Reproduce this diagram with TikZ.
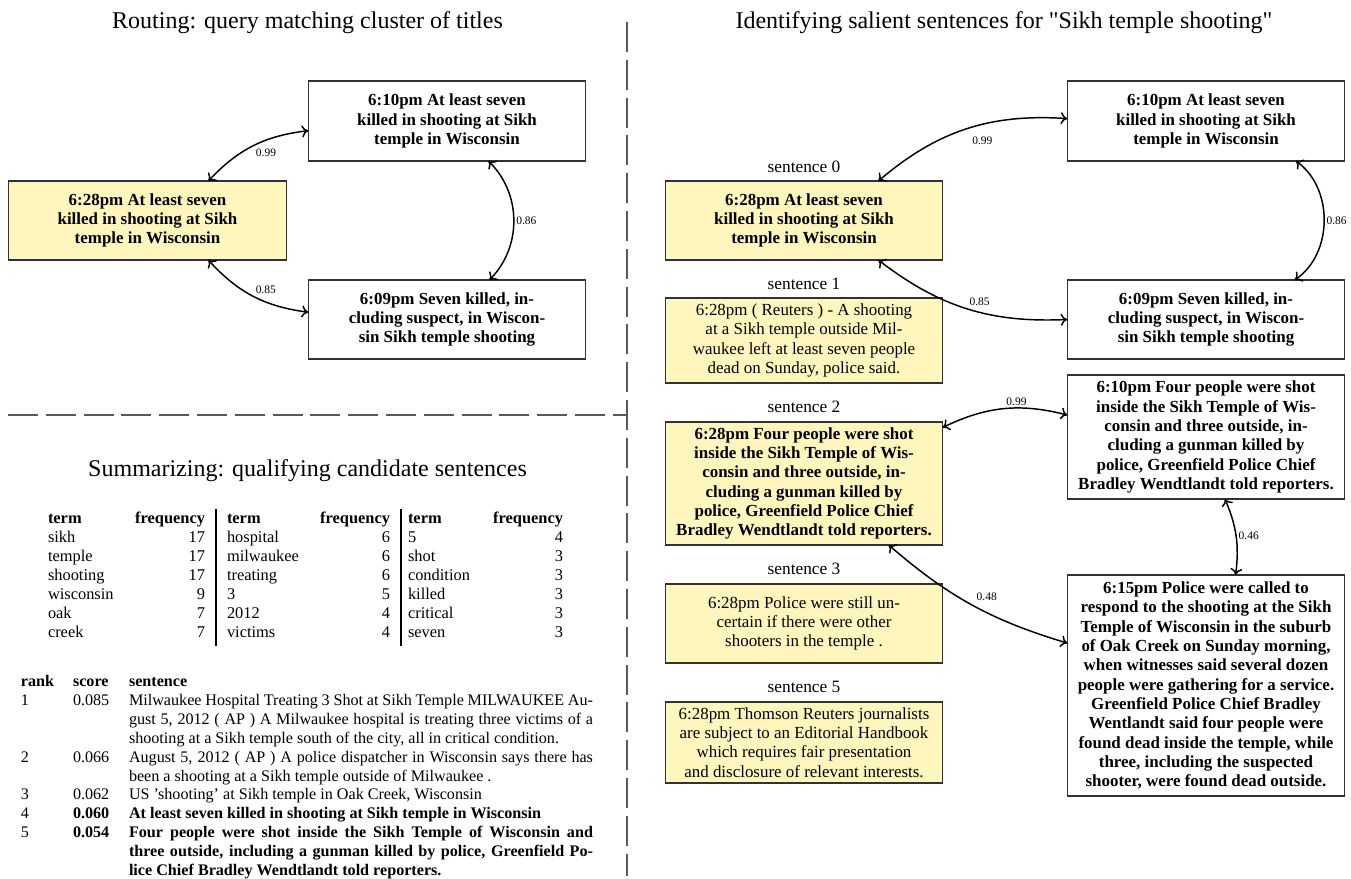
\documentclass[tikz,border=0pt]{standalone}
\usepackage{fontspec}
\setmainfont{Liberation Serif}
\newfontfamily\rawserif{Liberation Serif}[Ligatures=ResetAll]
\usetikzlibrary{arrows.meta}
\definecolor{boxyellow}{RGB}{255,246,190}
\definecolor{edgegray}{RGB}{50,50,50}
\begin{document}
\begin{tikzpicture}[x=0.75pt,y=-0.75pt,
  every node/.style={inner sep=0pt, outer sep=0pt},
  titletext/.style={font=\fontsize{18}{21}\selectfont, anchor=base},
  box/.style={draw=edgegray, line width=0.85pt, align=center, minimum width=208pt, font=\fontsize{12.7}{14.5}\selectfont},
  bbox/.style={box, font=\fontsize{12.7}{14.5}\selectfont\bfseries},
  hl/.style={fill=boxyellow},
  sentlabel/.style={font=\fontsize{13}{15}\selectfont, anchor=base},
  conn/.style={{Computer Modern Rightarrow[length=5pt,width=9pt]}-{Computer Modern Rightarrow[length=5pt,width=9pt]}, line width=1.1pt},
  lbl/.style={font=\fontsize{8.6}{10}\selectfont, inner sep=2pt},
  divider/.style={draw=black!65, line width=0.8pt, dash pattern=on 22.5pt off 5.85pt},
  tcell/.style={font=\fontsize{12.3}{14.5}\selectfont, anchor=base west},
  tnum/.style={font=\fontsize{12.3}{14.5}\selectfont, anchor=base east},
  thead/.style={font=\fontsize{12.3}{14.5}\selectfont\bfseries, anchor=base west},
  fhead/.style={font=\fontsize{12.3}{14.5}\selectfont\bfseries, anchor=base east},
  rcell/.style={font=\fontsize{12.1}{14.2}\selectfont, anchor=base west},
  rhead/.style={font=\fontsize{12.1}{14.2}\selectfont\bfseries, anchor=base west},
  rbold/.style={font=\fontsize{12.1}{14.2}\selectfont\bfseries, anchor=base west},
]
\useasboundingbox (0,0) rectangle (1351,878);

% dividers
\draw[divider] (627,22) -- (627,876);
\draw[divider] (8,415) -- (627,415);

% ---------- left top: routing ----------
\node[titletext] (tl) at (307.5,28.5) {Routing: query matching cluster of titles};
\node[bbox, minimum height=60pt] (A1) at (447,121) {6:10pm At least seven\\killed in shooting at Sikh\\temple in Wisconsin};
\node[bbox, hl, minimum height=59.25pt] (Y1) at (147.5,220.5) {6:28pm At least seven\\killed in shooting at Sikh\\temple in Wisconsin};
\node[bbox, minimum height=59.25pt] (C1) at (447,319.5) {6:09pm Seven killed, in-\\cluding suspect, in Wiscon-\\sin Sikh temple shooting};

\draw[conn] (Y1.33) to[bend left=20] node[lbl, pos=0.5, anchor=north west] (e1) {0.99} (A1.184);
\draw[conn] (A1.-44) to[bend left=45] node[lbl, pos=0.5, anchor=west] (e2) {0.86} (C1.43);
\draw[conn] (Y1.-33) to[bend right=20] node[lbl, pos=0.5, anchor=south west] (e3) {0.85} (C1.177);

% ---------- left bottom: summarizing ----------
\node[titletext] (ts) at (307.5,476) {Summarizing: qualifying candidate sentences};

\node[thead] (h1) at (48,523) {term};
\node[fhead] (g1) at (205,523) {frequency};
\node[thead] (h2) at (227,523) {term};
\node[fhead] (g2) at (390,523) {frequency};
\node[thead] (h3) at (408,523) {term};
\node[fhead] (g3) at (563,523) {frequency};
\foreach \tm/\fq [count=\i] in {sikh/17, temple/17, shooting/17, wisconsin/9, oak/7, creek/7}{
  \node[tcell] (ta\i) at (48,{523+19*\i}) {\tm};
  \node[tnum] (fa\i) at (205,{523+19*\i}) {\fq};
}
\foreach \tm/\fq [count=\i] in {hospital/6, milwaukee/6, treating/6, 3/5, 2012/4, victims/4}{
  \node[tcell] (tb\i) at (227,{523+19*\i}) {\tm};
  \node[tnum] (fb\i) at (390,{523+19*\i}) {\fq};
}
\foreach \tm/\fq [count=\i] in {5/4, shot/3, condition/3, killed/3, critical/3, seven/3}{
  \node[tcell] (tc\i) at (408,{523+19*\i}) {\tm};
  \node[tnum] (fc\i) at (563,{523+19*\i}) {\fq};
}
\draw[line width=0.8pt] (216,509) -- (216,646);
\draw[line width=0.8pt] (401,509) -- (401,646);

% rank table
\node[rhead] (rh1) at (21,686.5) {rank};
\node[rhead] (rh2) at (73,686.5) {score};
\node[rhead] (rh3) at (129,686.5) {sentence};

\node[rcell] (r1) at (21,705.4) {1};
\node[rcell] (s1) at (73,705.4) {0.085};
\node[rcell] (x1a) at (129,705.4) {\makebox[348pt][s]{Milwaukee Hospital Treating 3 Shot at Sikh Temple MILWAUKEE Au-}};
\node[rcell] (x1b) at (129,724.3) {\makebox[348pt][s]{gust 5, 2012 ( AP ) A Milwaukee hospital is treating three victims of a}};
\node[rcell] (x1c) at (129,743.2) {shooting at a Sikh temple south of the city, all in critical condition.};

\node[rcell] (r2) at (21,762.1) {2};
\node[rcell] (s2) at (73,762.1) {0.066};
\node[rcell] (x2a) at (129,762.1) {\makebox[348pt][s]{August 5, 2012 ( AP ) A police dispatcher in Wisconsin says there has}};
\node[rcell] (x2b) at (129,781) {been a shooting at a Sikh temple outside of Milwaukee .};

\node[rcell] (r3) at (21,799.9) {3};
\node[rcell] (s3) at (73,799.9) {0.062};
\node[rcell] (x3a) at (129,799.9) {US ’shooting’ at Sikh temple in Oak Creek, Wisconsin};

\node[rcell] (r4) at (21,818.8) {4};
\node[rbold] (s4) at (73,818.8) {0.060};
\node[rbold] (x4a) at (129,818.8) {At least seven killed in shooting at Sikh temple in Wisconsin};

\node[rcell] (r5) at (21,837.7) {5};
\node[rbold] (s5) at (73,837.7) {0.054};
\node[rbold] (x5a) at (129,837.7) {\makebox[348pt][s]{Four people were shot inside the Sikh Temple of Wisconsin and}};
\node[rbold] (x5b) at (129,856.6) {\makebox[348pt][s]{three outside, including a gunman killed by police, Greenfield Po-}};
\node[rbold] (x5c) at (129,875.5) {lice Chief Bradley Wendtlandt told reporters.};

% ---------- right: salient sentences ----------
\node[titletext, font=\fontsize{18}{21}\rawserif] (tr) at (1004,28.5) {Identifying salient sentences for "Sikh temple shooting"};

\node[bbox, minimum height=60pt] (A2) at (1206,121) {6:10pm At least seven\\killed in shooting at Sikh\\temple in Wisconsin};
\node[bbox, minimum height=59.25pt] (C2) at (1206,319.5) {6:09pm Seven killed, in-\\cluding suspect, in Wiscon-\\sin Sikh temple shooting};
\node[bbox, minimum height=93pt] (D2) at (1206,437) {6:10pm Four people were shot\\inside the Sikh Temple of Wis-\\consin and three outside, in-\\cluding a gunman killed by\\police, Greenfield Police Chief\\Bradley Wendtlandt told reporters.};
\node[bbox, minimum height=165.75pt] (E2) at (1206,685.5) {6:15pm Police were called to\\respond to the shooting at the Sikh\\Temple of Wisconsin in the suburb\\of Oak Creek on Sunday morning,\\when witnesses said several dozen\\people were gathering for a service.\\Greenfield Police Chief Bradley\\Wentlandt said four people were\\found dead inside the temple, while\\three, including the suspected\\shooter, were found dead outside.};

\node[sentlabel] (L0) at (804,172) {sentence 0};
\node[bbox, hl, minimum height=59.25pt] (Y2) at (804,220.5) {6:28pm At least seven\\killed in shooting at Sikh\\temple in Wisconsin};
\node[sentlabel] (L1) at (804,289) {sentence 1};
\node[box, hl, minimum height=63.75pt] (S1) at (804,340.5) {6:28pm ( Reuters ) - A shooting\\at a Sikh temple outside Mil-\\waukee left at least seven people\\dead on Sunday, police said.};
\node[sentlabel] (L2) at (804,412.5) {sentence 2};
\node[bbox, hl, minimum height=92.25pt] (S2) at (804,483.5) {6:28pm Four people were shot\\inside the Sikh Temple of Wis-\\consin and three outside, in-\\cluding a gunman killed by\\police, Greenfield Police Chief\\Bradley Wendtlandt told reporters.};
\node[sentlabel] (L3) at (804,574) {sentence 3};
\node[box, hl, minimum height=59.25pt] (S3) at (804,623.5) {6:28pm Police were still un-\\certain if there were other\\shooters in the temple .};
\node[sentlabel] (L5) at (804,692) {sentence 5};
\node[box, hl, minimum height=60.75pt] (S5) at (804,742.5) {6:28pm Thomson Reuters journalists\\are subject to an Editorial Handbook\\which requires fair presentation\\and disclosure of relevant interests.};

\draw[conn] (Y2.28) to[bend left=22] node[lbl, pos=0.52, anchor=north west, yshift=-5pt] (e4) {0.99} (A2.179);
\draw[conn] (A2.-24) to[bend left=55] node[lbl, pos=0.5, anchor=west] (e5) {0.86} (C2.24);
\draw[conn] (Y2.-28) to[bend right=20] node[lbl, pos=0.5, anchor=south west] (e6) {0.85} (C2.west);
\draw[conn] (S2.22) to[bend left=20] node[lbl, pos=0.5, anchor=south west] (e7) {0.99} (D2.171);
\draw[conn] (D2.-73) to[bend left=15] node[lbl, pos=0.5, anchor=west] (e8) {0.46} (E2.75);
\draw[conn] (S2.-36) to[bend right=12] node[lbl, pos=0.48, anchor=south west, xshift=4pt] (e9) {0.48} (E2.163);
\end{tikzpicture}
\end{document}
